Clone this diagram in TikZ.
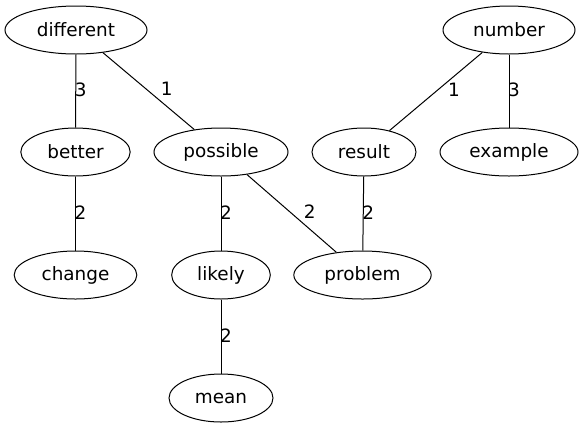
\documentclass[tikz,border=0pt]{standalone}
\usepackage{fontspec}
\setmainfont{DejaVu Sans}
\usetikzlibrary{shapes.geometric}
\tikzset{
  vtx/.style={draw, ellipse, line width=0.75pt, inner sep=0pt, minimum height=36pt, font=\fontsize{13.8}{16}\selectfont},
  edg/.style={line width=0.75pt},
  vlbl/.style={font=\fontsize{13.8}{16}\selectfont, inner sep=0pt, pos=0.5, xshift=3.75pt, yshift=0.75pt},
  dlbl/.style={font=\fontsize{13.8}{16}\selectfont, inner sep=0pt, pos=0.5, xshift=13.5pt, yshift=1.5pt}
}
\begin{document}
\begin{tikzpicture}[x=0.75pt, y=-0.75pt]
\useasboundingbox (0,0) rectangle (584,429);
\node[vtx, minimum width=106.5pt] (different) at (76,30) {different};
\node[vtx, minimum width=99pt] (number) at (509,30) {number};
\node[vtx, minimum width=82pt] (better) at (75.5,152) {better};
\node[vtx, minimum width=100.5pt] (possible) at (221,152) {possible};
\node[vtx, minimum width=78pt] (result) at (364,152) {result};
\node[vtx, minimum width=103.5pt] (example) at (509,152) {example};
\node[vtx, minimum width=92pt] (change) at (75.5,275) {change};
\node[vtx, minimum width=74pt] (likely) at (221,275) {likely};
\node[vtx, minimum width=103pt] (problem) at (362.5,275) {problem};
\node[vtx, minimum width=78pt] (mean) at (221,398) {mean};

\draw[edg] (different) -- node[vlbl] (l1) {3} (better);
\draw[edg] (different) -- node[dlbl] (l2) {1} (possible);
\draw[edg] (number) -- node[dlbl] (l3) {1} (result);
\draw[edg] (number) -- node[vlbl] (l4) {3} (example);
\draw[edg] (better) -- node[vlbl] (l5) {2} (change);
\draw[edg] (possible) -- node[vlbl] (l6) {2} (likely);
\draw[edg] (possible) -- node[dlbl] (l7) {2} (problem);
\draw[edg] (result) -- node[vlbl] (l8) {2} (problem);
\draw[edg] (likely) -- node[vlbl] (l9) {2} (mean);
\end{tikzpicture}
\end{document}
